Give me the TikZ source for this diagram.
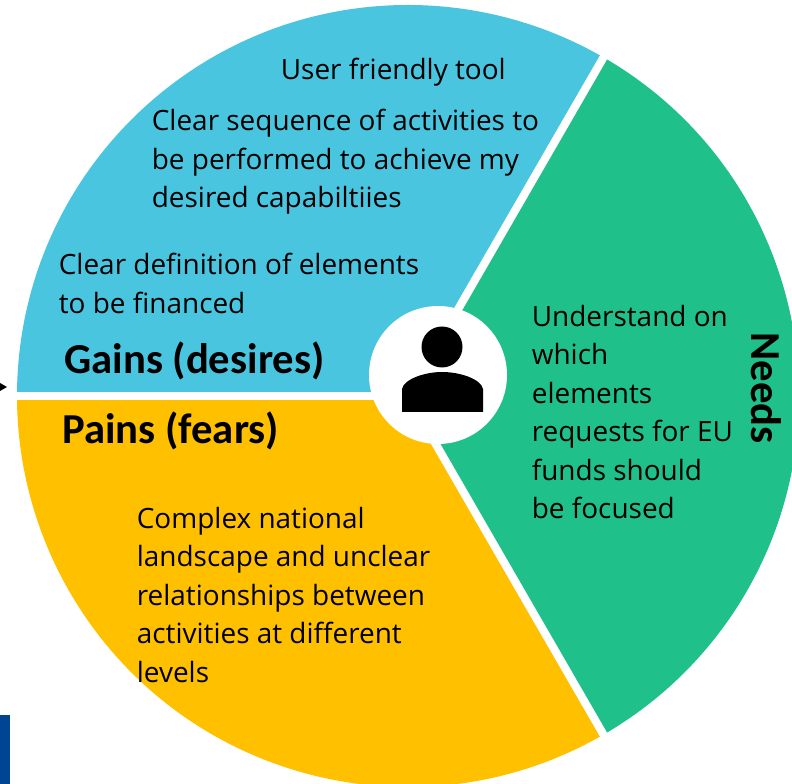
\documentclass[tikz,border=0pt]{standalone}
\usepackage{fontspec}
\setmainfont{Open Sans}
\newfontfamily\headfont{Carlito}
\definecolor{gainsblue}{HTML}{4AC5E0}
\definecolor{needsgreen}{HTML}{20C08B}
\definecolor{painsyellow}{HTML}{FFC000}
\definecolor{cornerblue}{HTML}{004494}
\tikzset{
  bodytext/.style = {anchor=north west, align=left, inner sep=0pt, font=\fontsize{15.9}{21.85}\selectfont},
  headtext/.style = {anchor=base west, inner sep=0pt, font=\headfont\fontsize{24.3}{28}\selectfont\bfseries},
  gapline/.style = {draw=white, line width=4.6pt}
}
\begin{document}
\begin{tikzpicture}[x = 0.02cm, y = 0.02cm]
\useasboundingbox (0,0) rectangle (792,784);
\clip (0,0) rectangle (792,784);
\coordinate (hub) at (408,388);
%
\fill[gainsblue](hub) -- ++(180:391) arc (180:60:391) -- cycle;
\fill[needsgreen](hub) -- ++(60:391) arc (60:-60:391) -- cycle;
\fill[painsyellow](hub) -- ++(-60:391) arc (-60:-180:391) -- cycle;
\draw[gapline](hub) -- ++(180:400);
\draw[gapline](hub) -- ++(60:400);
\draw[gapline](hub) -- ++(-60:400);
%
\fill[white](438,409) circle (69);
\fill[black](442,437) circle (20.5);
\fill[black](402,372) -- (402,395) .. controls (404,405) and (425,412) .. (442,412) .. controls (460,412) and (481,405) .. (483,395) -- (483,372) -- cycle;
%
\fill[cornerblue](0,0) rectangle (10,69);
\fill[black](7,397) -- (0,401) -- (0,393) -- cycle;
%
\node[bodytext] (usertool) at (280.5,726) {User friendly tool};
\node[bodytext] (sequence) at (151.5,675) {Clear sequence of activities to\\be performed to achieve my\\desired capabiltiies};
\node[bodytext] (elements) at (58.5,531) {Clear definition of elements\\to be financed};
\node[headtext] (gains) at (64,410) {Gains (desires)};
\node[headtext] (pains) at (62,340) {Pains (fears)};
\node[bodytext] (focus) at (531.5,479) {Understand on\\which\\elements\\requests for EU\\funds should\\be focused};
\node[bodytext] (landscape) at (136.5,277) {Complex national\\landscape and unclear\\relationships between\\activities at different\\levels};
\node[headtext, anchor=base, rotate=-90] (needs) at (751,396) {Needs};
\end{tikzpicture}
\end{document}
